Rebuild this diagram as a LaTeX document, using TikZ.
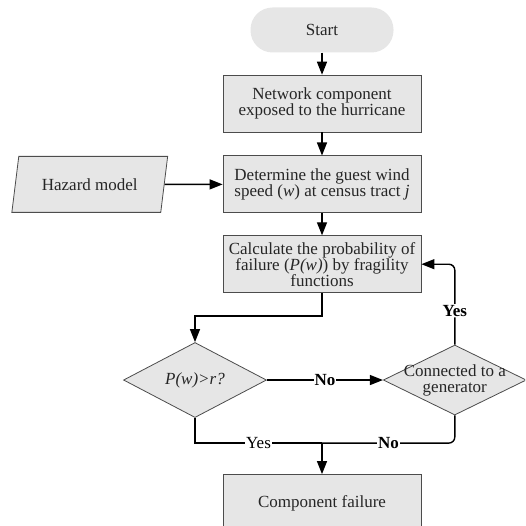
\documentclass[tikz,border=0pt]{standalone}
\usepackage{fontspec}
\setmainfont{Liberation Serif}
\usetikzlibrary{arrows.meta,positioning,shapes.geometric}
\definecolor{boxgray}{HTML}{E6E6E6}
\definecolor{textgray}{HTML}{262626}

\begin{document}
\begin{tikzpicture}[x=1pt,y=1pt,
startnode/.style={rectangle, rounded corners=22pt, fill=boxgray, minimum width=143pt, minimum height=45pt},
processnode/.style={rectangle, draw=black!70, line width=0.8pt, fill=boxgray, minimum width=198pt, minimum height=57pt, align=center, inner sep=2pt},
inputnode/.style={trapezium, trapezium stretches=true, trapezium left angle=75, trapezium right angle=105, draw=black!70, line width=0.8pt, fill=boxgray, minimum width=156pt, minimum height=56pt},
decisionnode/.style={diamond, draw=black!70, line width=0.8pt, fill=boxgray, minimum width=143pt, minimum height=70pt, inner sep=0pt},
flowline/.style={line width=1.4pt},
flowarrow/.style={line width=1.4pt, -{Triangle[length=13pt,width=10pt]}},
edgelabel/.style={fill=white, inner sep=1pt, text=black},
boldlabel/.style={edgelabel, font=\fontsize{17}{16}\selectfont\bfseries},
every node/.append style={font=\fontsize{17}{16}\selectfont, text=textgray}]
\clip (0,0) rectangle (525,-526);
% Nodes
\node[startnode] (start) at (322,-30) {Start};
\node[processnode] (exposed) [below=22pt of start] {Network component\\exposed to the hurricane};
\node[processnode] (speed) [below=23pt of exposed] {Determine the guest wind\\speed (\textit{w}) at census tract \textit{j}};
\node[inputnode] (hazard) [left=58pt of speed] {Hazard model};
\node[processnode] (calc) [below=22pt of speed] {Calculate the probability of\\failure (\textit{P(w)}) by fragility\\functions};
\node[decisionnode] (pfail) [below=49pt of calc, xshift=-127pt] {\textit{P(w)>r?}};
\node[decisionnode, label={[align=center]center:Connected to a\\generator}] (conn) [right=116pt of pfail] {};
\node[processnode] (fail) [below=181pt of calc] {Component failure};
\coordinate[above=31pt of fail] (merge);
% Lines
\draw[flowarrow] (start) -- (exposed);
\draw[flowarrow] (exposed) -- (speed);
\draw[flowarrow] (hazard) -- (speed);
\draw[flowarrow] (speed) -- (calc);
\draw[flowarrow] (calc.south) -- ++(0,-23) -| (pfail.north);
\draw[flowarrow] (pfail.east) -- node[boldlabel] {No} (conn.west);
\draw[flowarrow, rounded corners=6pt] (conn.north) |- node[pos=0.21, boldlabel] {Yes} (calc.east);
\draw[flowline] (pfail.south) |- node[pos=0.75, edgelabel] {Yes} (merge);
\draw[flowline, rounded corners=6pt] (conn.south) |- node[pos=0.75, boldlabel] {No} (merge);
\draw[flowarrow] (merge) -- (fail);
\end{tikzpicture}
\end{document}
